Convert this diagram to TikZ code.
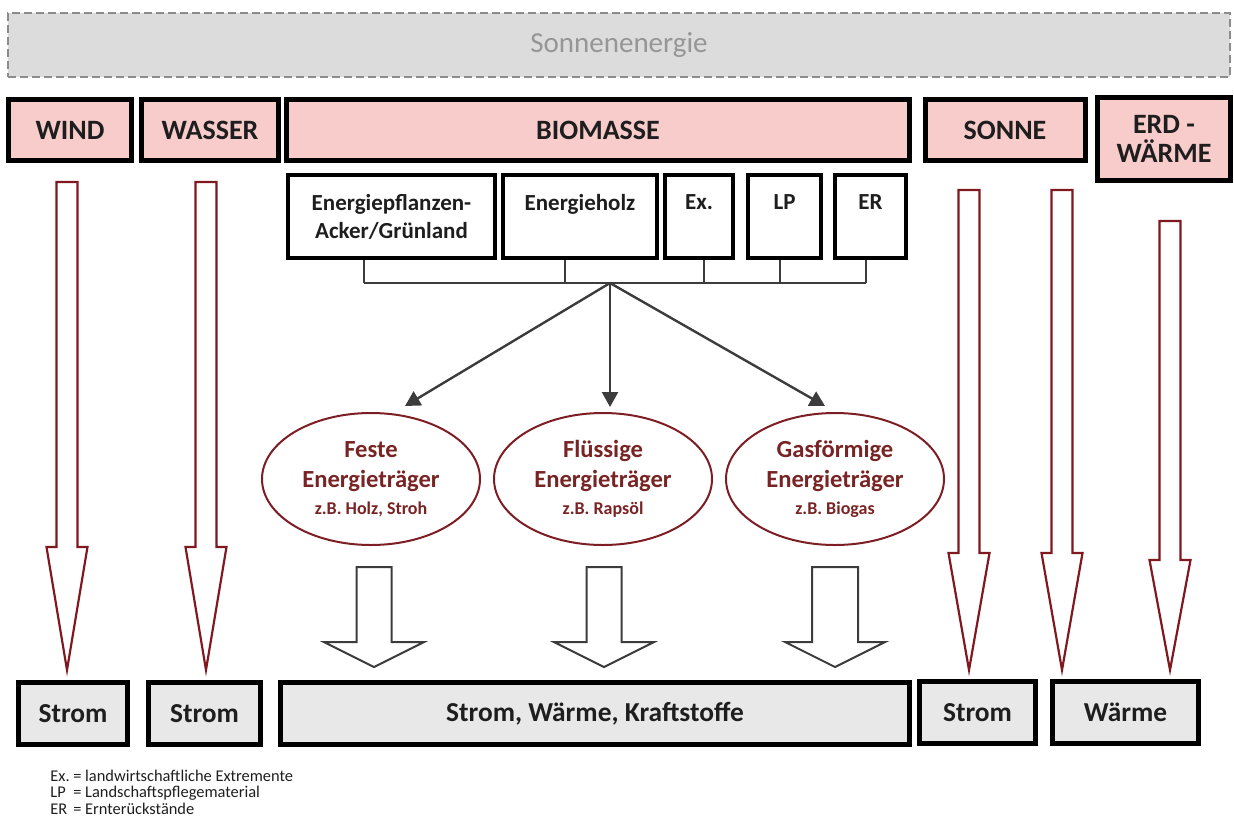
\documentclass[tikz,border=0pt]{standalone}
\usepackage{fontspec}
\setmainfont{Carlito}
\usetikzlibrary{shapes.geometric,arrows.meta,positioning,calc}

\definecolor{srcpink}{RGB}{249,204,204}
\definecolor{sungray}{RGB}{220,220,220}
\definecolor{suntext}{RGB}{150,150,150}
\definecolor{sunline}{RGB}{140,140,140}
\definecolor{prodgray}{RGB}{232,232,232}
\definecolor{arrowred}{RGB}{128,24,32}
\definecolor{carrierred}{RGB}{125,30,36}
\definecolor{carriertext}{RGB}{120,36,36}
\definecolor{linegray}{RGB}{60,60,60}
\definecolor{boxtext}{RGB}{30,30,30}

\tikzset{
  sun/.style={draw=sunline, dashed, dash pattern=on 4pt off 2pt, line width=1pt, fill=sungray, text=suntext,
    font=\fontsize{14.5}{16}\selectfont, minimum width=611pt, minimum height=32pt, inner sep=0pt},
  source/.style={draw, line width=2.5pt, fill=srcpink, text=boxtext, font=\fontsize{14}{14.5}\selectfont\bfseries,
    minimum height=30.5pt, inner sep=0pt, align=center},
  part/.style={draw, line width=2pt, fill=white, text=boxtext, font=\fontsize{11.5}{14}\selectfont\bfseries,
    minimum height=41.5pt, inner sep=0pt, align=center},
  carrier/.style={ellipse, draw=carrierred, line width=1pt, text=carriertext, font=\fontsize{12.3}{15}\selectfont\bfseries,
    minimum width=109pt, minimum height=66pt, inner sep=0pt, align=center},
  product/.style={draw, line width=2.5pt, fill=prodgray, text=boxtext, font=\fontsize{13.7}{15}\selectfont\bfseries,
    minimum height=31pt, inner sep=0pt},
  bracket/.style={draw=linegray, line width=1pt},
  feed/.style={draw=linegray, line width=1.2pt, -{Triangle[length=7.5pt,width=8pt]}},
  bigarrow/.style={draw=arrowred, line width=1.1pt, fill=white, line join=miter},
  blockarrow/.style={draw=linegray, line width=1pt, fill=white, line join=miter}
}

\begin{document}
\begin{tikzpicture}[x=0.5pt, y=-0.5pt]
        \useasboundingbox (0,0) rectangle (1234,819);

        % Sonnenenergie
        \node [sun] (sun) at (619,45) {Sonnenenergie};

        % Quellen
        \node [source, minimum width=61.5pt] (wind) at (70,130) {WIND};
        \node [source, minimum width=68.5pt] (wasser) at (210,130) {WASSER};
        \node [source, minimum width=311.5pt] (biomasse) at (598,130) {BIOMASSE};
        \node [source, minimum width=80pt] (sonne) at (1005,130) {SONNE};
        \node [source, minimum width=66.5pt, minimum height=41.5pt] (erd) at (1164,139) {ERD -\\WÄRME};

        % Biomasse-Arten
        \node [part, minimum width=103.5pt] (pflanzen) at (391.5,216.5) {Energiepflanzen-\\Acker/Grünland};
        \node [part, minimum width=77pt] (holz) at (580,216.5) {Energieholz\\\mbox{}};
        \node [part, minimum width=34pt] (ex) at (699,216.5) {Ex.\\\mbox{}};
        \node [part, minimum width=36.5pt] (lp) at (784.5,216.5) {LP\\\mbox{}};
        \node [part, minimum width=35.5pt] (er) at (870.5,216.5) {ER\\\mbox{}};

        % Klammer
        \coordinate (hub) at (610,283);
        \foreach \b/\dx in {pflanzen/-27.5, holz/-15, ex/5, lp/-4.5, er/-4.5}
            \draw [bracket] ($(\b.south)+(\dx,0)$) -- ($(\b.south)+(\dx,23)$);
        \draw [bracket] ($(pflanzen.south)+(-27.5,23)$) -- ($(er.south)+(-4.5,23)$);

        % Energietraeger
        \node [carrier] (feste) at (371,479) {Feste\\Energieträger\\[-1.5pt]{\fontsize{9}{10}\selectfont z.B. Holz, Stroh}};
        \node [carrier] (fluessig) at (603,479) {Flüssige\\Energieträger\\[-1.5pt]{\fontsize{9}{10}\selectfont z.B. Rapsöl}};
        \node [carrier] (gas) at (835,479) {Gasförmige\\Energieträger\\[-1.5pt]{\fontsize{9}{10}\selectfont z.B. Biogas}};

        \coordinate (festein) at (405,406);
        \coordinate (fluessigin) at (610,407);
        \coordinate (gasin) at (825,406);
        \draw [feed] (hub) -- (festein);
        \draw [feed] (hub) -- (fluessigin);
        \draw [feed] (hub) -- (gasin);

        % Nutzung
        \node [product, minimum width=54.5pt] (strom1) at (73,713.5) {Strom};
        \node [product, minimum width=56pt] (strom2) at (204.5,713.5) {Strom};
        \node [product, minimum width=314.5pt] (mix) at (595,713.5) {Strom, Wärme, Kraftstoffe};
        \node [product, minimum width=58pt] (strom3) at (977.5,712.5) {Strom};
        \node [product, minimum width=73pt] (waerme) at (1125.5,712.5) {Wärme};

        % lange Pfeile
        \foreach \x/\top/\base in {67/182/547, 206/182/547, 969/190/553, 1062/190/553, 1170/221/560}
            \draw [bigarrow] (\x-10.5,\top) -- (\x+10.5,\top) -- (\x+10.5,\base) -- (\x+20.5,\base)
                -- (\x,670) -- (\x-20.5,\base) -- (\x-10.5,\base) -- cycle;

        % Blockpfeile
        \foreach \x/\s in {374/17.5, 604/17.5, 835/23}
            \draw [blockarrow] (\x-\s,567) -- (\x+\s,567) -- (\x+\s,642) -- (\x+50,642)
                -- (\x,667) -- (\x-50,642) -- (\x-\s,642) -- cycle;

        % Legende
        \node [anchor=north west, inner sep=0pt, text=boxtext, font=\fontsize{8.2}{8}\selectfont] (legend) at (50,770)
            {\begin{tabular}{@{}l@{\ }l@{}}
             Ex. & = landwirtschaftliche Extremente\\
             LP & = Landschaftspflegematerial\\
             ER & = Ernterückstände
             \end{tabular}};
    \end{tikzpicture}
\end{document}
